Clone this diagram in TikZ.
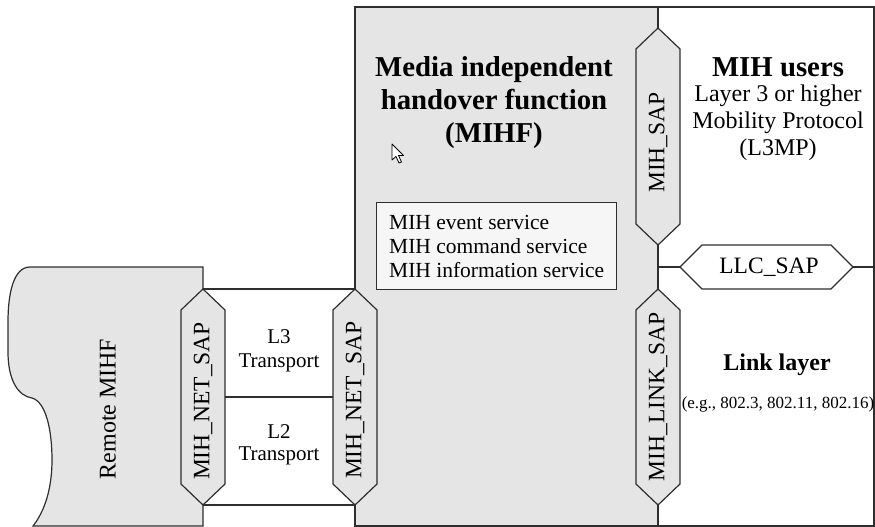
\documentclass[tikz,border=0pt]{standalone}
\usepackage{fontspec}
\setmainfont{Liberation Serif}
\definecolor{mihgray}{gray}{0.9}
\definecolor{boxgray}{gray}{0.965}
\definecolor{edge}{gray}{0.18}
\tikzset{
  frame/.style={draw=edge, line width=1.2pt},
  hexgray/.style={frame, fill=mihgray},
  hexwhite/.style={frame, fill=white},
  saplabel/.style={inner sep=0pt, font=\fontsize{23.5}{26}\selectfont},
  titlefont/.style={inner sep=0pt, anchor=base, font=\fontsize{28.8}{32}\selectfont\bfseries},
  bodyfont/.style={inner sep=0pt, anchor=base, font=\fontsize{24}{27}\selectfont},
  smallfont/.style={inner sep=0pt, anchor=base, font=\fontsize{21}{24}\selectfont},
}
\begin{document}
\begin{tikzpicture}[x=1pt, y=-1pt, line join=miter]
\useasboundingbox (0,0) rectangle (875,527);

% --- local MIHF panel with the MIH users / link layer column ---
\fill[mihgray] (355,7) rectangle (658,526);
\draw[frame] (355,7) rectangle (874,526);
\coordinate (divtop) at (658,7);
\coordinate (divbot) at (658,526);
\draw[frame] (divtop) -- (divbot);
\coordinate (llcline-w) at (658,267);
\coordinate (llcline-e) at (874,267);
\draw[frame] (llcline-w) -- (llcline-e);

% --- remote MIHF (wavy left edge) ---
\filldraw[frame, fill=mihgray] (203,267) -- (30,267)
  .. controls (14,267) and (8,292) .. (8,322) -- (8,352)
  .. controls (8,380) and (18,396) .. (32,398)
  .. controls (46,402) and (52,430) .. (52,460)
  .. controls (52,490) and (44,512) .. (33,526) -- (203,526) -- cycle;
\node[rotate=90, inner sep=0pt, font=\fontsize{24}{27}\selectfont] (remote) at (108,409) {Remote MIHF};

% --- service access points (hexagons) ---
% remote MIH_NET_SAP
\coordinate (remsap-n) at (203,289);
\coordinate (remsap-s) at (203,505);
\coordinate (remsap-e) at (225,397);
\draw[hexgray] (remsap-n) -- (225,310) -- (225,484) -- (remsap-s) -- (181,484) -- (181,310) -- cycle;
\node[saplabel, rotate=90] (remsap) at (203,401) {MIH\_NET\_SAP};

% local MIH_NET_SAP
\coordinate (netsap-n) at (355,289);
\coordinate (netsap-s) at (355,505);
\coordinate (netsap-w) at (333,397);
\draw[hexgray] (netsap-n) -- (377,310) -- (377,484) -- (netsap-s) -- (333,484) -- (333,310) -- cycle;
\node[saplabel, rotate=90] (netsap) at (355,400) {MIH\_NET\_SAP};

% transport links between the two MIHFs
\draw[frame] (remsap-n) -- (netsap-n);
\draw[frame] (remsap-s) -- (netsap-s);
\draw[frame] (remsap-e) -- (netsap-w);
\node[smallfont] (l3a) at (279,343) {L3};
\node[smallfont] (l3b) at (279,367) {Transport};
\node[smallfont] (l2a) at (279,438) {L2};
\node[smallfont] (l2b) at (279,460) {Transport};

% MIH_SAP
\draw[hexgray] (658,28) -- (680,49) -- (680,224) -- (658,245) -- (636,224) -- (636,49) -- cycle;
\node[saplabel, rotate=90] (mihsap) at (658,142.5) {MIH\_SAP};

% MIH_LINK_SAP
\draw[hexgray] (658,289) -- (680,310) -- (680,484) -- (658,505) -- (636,484) -- (636,310) -- cycle;
\node[saplabel, rotate=90] (linksap) at (658,397) {MIH\_LINK\_SAP};

% LLC_SAP
\draw[hexwhite] (680,267) -- (702,245) -- (831,245) -- (853,267) -- (831,289) -- (702,289) -- cycle;
\node[saplabel, anchor=base] (llcsap) at (769,273.5) {LLC\_SAP};

% --- MIHF title and services ---
\node[titlefont] (mihf1) at (494,77) {Media independent};
\node[titlefont] (mihf2) at (494,109.5) {handover function};
\node[titlefont] (mihf3) at (494,142) {(MIHF)};

\node[frame, fill=boxgray, anchor=north west, minimum width=240pt, minimum height=87pt,
      inner sep=0pt, align=left,
      font=\fontsize{21.5}{24}\selectfont] (services) at (376,202)
  {MIH event service\\MIH command service\\MIH information service};

% mouse pointer
\filldraw[fill=white, draw=black, line width=0.8pt, line join=round]
  (392,144) -- (392,160) -- (396,156.5) -- (399,163) -- (401.5,162) -- (398.5,155.5) -- (403.5,155.5) -- cycle;

% --- MIH users ---
\node[titlefont] (users1) at (778,76) {MIH users};
\node[bodyfont] (users2) at (778,101) {Layer 3 or higher};
\node[bodyfont] (users3) at (778,128) {Mobility Protocol};
\node[bodyfont] (users4) at (778,155) {(L3MP)};

% --- link layer ---
\node[inner sep=0pt, anchor=base, font=\fontsize{24}{27}\selectfont\bfseries] (link1) at (777,370) {Link layer};
\node[inner sep=0pt, anchor=base, font=\fontsize{17}{20}\selectfont] (link2) at (778,408) {(e.g., 802.3, 802.11, 802.16)};
\end{tikzpicture}
\end{document}
